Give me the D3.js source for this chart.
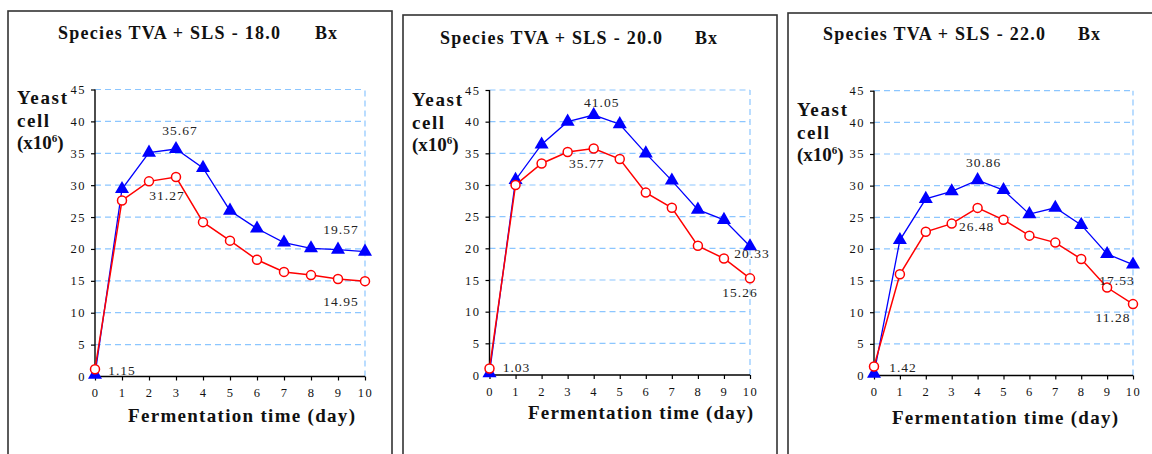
<!DOCTYPE html>
<html><head><meta charset="utf-8">
<script src="https://cdn.jsdelivr.net/npm/d3@7"></script>
<style>html,body{margin:0;padding:0;background:#fff;}svg{display:block;}</style>
</head><body>
<svg id="c" width="1152" height="454"></svg>
<script>
// ---- data ----
const days = [0,1,2,3,4,5,6,7,8,9,10];
const yTicks = [0,5,10,15,20,25,30,35,40,45];
const titles = ["Species TVA + SLS - 18.0", "Species TVA + SLS - 20.0", "Species TVA + SLS - 22.0"];
const unitLabel = "Bx";
const xAxisTitle = "Fermentation time (day)";
const yAxisTitle = ["Yeast", "cell", "(x10", "6", ")"];
const blue18 = [0.3, 29.4, 35.1, 35.67, 32.7, 26.0, 23.2, 21.0, 20.1, 19.9, 19.57];
const red18  = [1.15, 27.6, 30.6, 31.27, 24.2, 21.3, 18.3, 16.4, 15.9, 15.3, 14.95];
const blue20 = [0.3, 30.8, 36.4, 40.0, 41.05, 39.6, 35.0, 30.7, 26.1, 24.5, 20.33];
const red20  = [1.03, 30.0, 33.4, 35.2, 35.77, 34.1, 28.8, 26.4, 20.4, 18.4, 15.26];
const blue22 = [0.3, 21.4, 27.9, 29.1, 30.86, 29.3, 25.5, 26.5, 23.8, 19.2, 17.53];
const red22  = [1.42, 16.0, 22.7, 24.0, 26.48, 24.6, 22.1, 21.0, 18.4, 13.9, 11.28];
// labelled points: [series, day]
const labels18 = [["b",3],["r",3],["b",10],["r",10],["r",0]];
const labels20 = [["b",4],["r",4],["b",10],["r",10],["r",0]];
const labels22 = [["b",4],["r",4],["b",10],["r",10],["r",0]];

// ---- layout ----
const panels = [
  {blue:blue18, red:red18, labels:labels18, title:titles[0],
   box:{x:8,y:11,w:384,h:470}, plot:{l:95,r:365,t:89.5,b:376.5},
   tt:{x:58,y:39,w:222}, bx:{x:315,y:39}, yl:{x:17,ys:[104,127,149]}, xl:{x:128,y:422,w:227},
   off:[[4,-19],[-9,18],[-24,-22],[-24,20],[27,1]]},
  {blue:blue20, red:red20, labels:labels20, title:titles[1],
   box:{x:403,y:15,w:374,h:470}, plot:{l:489.5,r:750,t:90,b:375},
   tt:{x:440,y:44,w:222}, bx:{x:695,y:44}, yl:{x:412,ys:[106,129,151]}, xl:{x:528,y:419,w:225},
   off:[[8,-13],[-7,15],[2,7],[-10,14],[27,-1]]},
  {blue:blue22, red:red22, labels:labels22, title:titles[2],
   box:{x:788,y:13,w:380,h:470}, plot:{l:874,r:1133,t:90.7,b:375.5},
   tt:{x:823,y:40,w:222}, bx:{x:1078,y:40}, yl:{x:797,ys:[116,139,161]}, xl:{x:892,y:424,w:226},
   off:[[6,-18],[-1,19],[-16,16],[-20,13],[29,1]]}
];

const svg = d3.select("#c");
const serif = "'Liberation Serif','Times New Roman',serif";
const ink = "#111";

panels.forEach(p => {
  const g = svg.append("g");
  g.append("rect").attr("x",p.box.x).attr("y",p.box.y).attr("width",p.box.w).attr("height",p.box.h)
    .attr("fill","#fff").attr("stroke","#333").attr("stroke-width",1.6);

  const x = d3.scaleLinear().domain([0,10]).range([p.plot.l,p.plot.r]);
  const y = d3.scaleLinear().domain([0,45]).range([p.plot.b,p.plot.t]);

  // grid
  g.selectAll(".hg").data(yTicks.filter(d=>d>0)).join("line")
    .attr("x1",x(0)).attr("x2",x(10)).attr("y1",d=>y(d)).attr("y2",d=>y(d))
    .attr("stroke","#8cc6ff").attr("stroke-width",1.2).attr("stroke-dasharray","6,4");
  g.append("line").attr("x1",x(10)).attr("x2",x(10)).attr("y1",y(0)).attr("y2",y(45))
    .attr("stroke","#8cc6ff").attr("stroke-width",1.2).attr("stroke-dasharray","6,4");

  // axes
  const ya = g.append("g").attr("transform",`translate(${x(0)},0)`)
    .call(d3.axisLeft(y).tickValues(yTicks).tickSize(4).tickPadding(5).tickFormat(d3.format("d")));
  const xa = g.append("g").attr("transform",`translate(0,${y(0)})`)
    .call(d3.axisBottom(x).tickValues(days).tickSize(4).tickPadding(8).tickFormat(d3.format("d")));
  [ya,xa].forEach(a=>{
    a.select(".domain").attr("stroke","#000").attr("stroke-width",1.4);
    a.selectAll(".tick line").attr("stroke","#000").attr("stroke-width",1.2);
    a.selectAll("text").attr("font-family",serif).attr("font-size",12.5).attr("fill",ink)
      .attr("letter-spacing",1.5);
  });
  ya.select(".domain").attr("d",`M0,${y(0)}V${y(45)}`);
  xa.select(".domain").attr("d",`M${x(0)},0H${x(10)}`);

  // lines
  const line = d3.line().x((d,i)=>x(days[i])).y(d=>y(d));
  g.append("path").datum(p.blue).attr("d",line).attr("fill","none").attr("stroke","#0000ff").attr("stroke-width",1.3);
  const tri = d3.symbol().type(d3.symbolTriangle).size(85);
  g.selectAll(".bt").data(p.blue).join("path")
    .attr("transform",(d,i)=>`translate(${x(days[i])},${y(d)})`)
    .attr("d",tri).attr("fill","#0000ff");
  g.append("path").datum(p.red).attr("d",line).attr("fill","none").attr("stroke","#ff0000").attr("stroke-width",1.5);
  g.selectAll(".rc").data(p.red).join("circle")
    .attr("cx",(d,i)=>x(days[i])).attr("cy",d=>y(d)).attr("r",4.5)
    .attr("fill","#fff").attr("stroke","#ff0000").attr("stroke-width",1.5);

  // value labels
  g.selectAll(".vl").data(p.labels).join("text")
    .attr("x",(d,i)=>x(days[d[1]])+p.off[i][0])
    .attr("y",(d,i)=>y((d[0]==="b"?p.blue:p.red)[d[1]])+p.off[i][1]+4.5)
    .attr("text-anchor","middle").attr("font-family",serif).attr("font-size",13.5)
    .attr("letter-spacing",1).attr("fill","#222")
    .text(d=>d3.format(".2f")((d[0]==="b"?p.blue:p.red)[d[1]]));

  // titles
  g.append("text").attr("x",p.tt.x).attr("y",p.tt.y).attr("font-family",serif).attr("font-weight","bold")
    .attr("font-size",18).attr("fill",ink).attr("textLength",p.tt.w).attr("lengthAdjust","spacing").text(p.title);
  g.append("text").attr("x",p.bx.x).attr("y",p.bx.y).attr("font-family",serif).attr("font-weight","bold")
    .attr("font-size",18).attr("fill",ink).attr("letter-spacing",1).text(unitLabel);

  // y axis title
  const yt = (s,i)=>g.append("text").attr("x",p.yl.x).attr("y",p.yl.ys[i]).attr("font-family",serif)
    .attr("font-weight","bold").attr("font-size",19).attr("fill",ink);
  yt(0,0).attr("textLength",50).attr("lengthAdjust","spacing").text(yAxisTitle[0]);
  yt(0,1).attr("textLength",32).attr("lengthAdjust","spacing").text(yAxisTitle[1]);
  const t3 = yt(0,2);
  t3.append("tspan").text(yAxisTitle[2]);
  t3.append("tspan").attr("dy",-7).attr("font-size",11).text(yAxisTitle[3]);
  t3.append("tspan").attr("dy",7).text(yAxisTitle[4]);

  // x axis title
  g.append("text").attr("x",p.xl.x).attr("y",p.xl.y).attr("font-family",serif).attr("font-weight","bold")
    .attr("font-size",19).attr("fill",ink).attr("textLength",p.xl.w).attr("lengthAdjust","spacing").text(xAxisTitle);
});
</script>
</body></html>
